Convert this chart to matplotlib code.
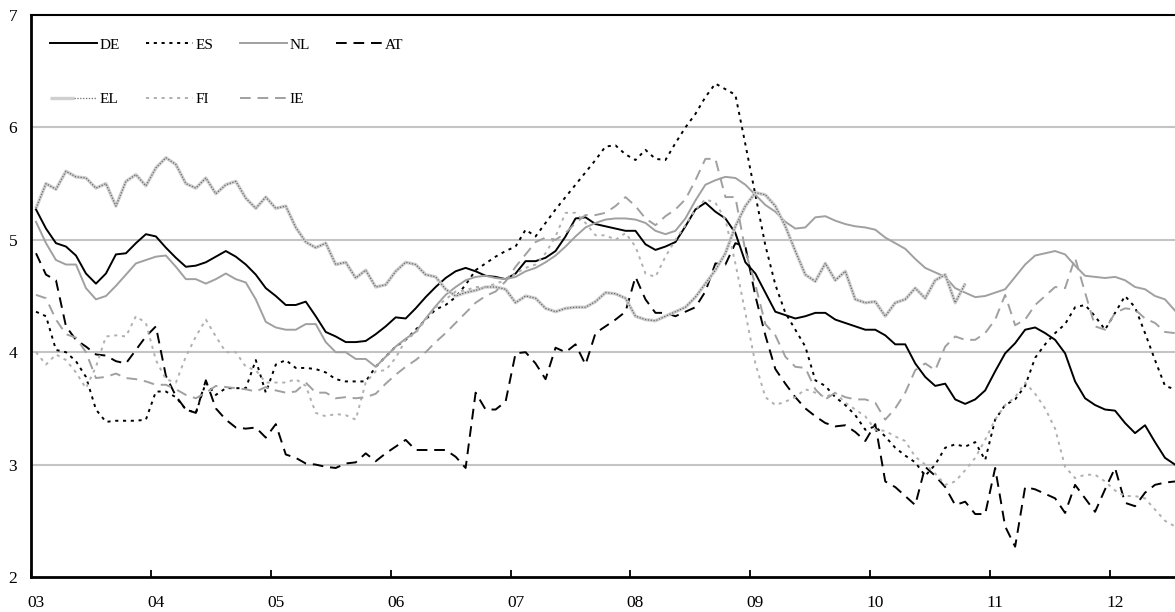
import matplotlib
matplotlib.use("Agg")
import matplotlib.pyplot as plt
from matplotlib.legend_handler import HandlerTuple
import numpy as np

# monthly values, Jan 2003 .. Jul 2012
de = [5.27, 5.10, 4.97, 4.94, 4.86, 4.70, 4.61, 4.70, 4.87, 4.88, 4.97, 5.05,
      5.03, 4.93, 4.84, 4.76, 4.77, 4.80, 4.85, 4.90, 4.85, 4.78, 4.69, 4.57,
      4.50, 4.42, 4.42, 4.45, 4.32, 4.18, 4.14, 4.09, 4.09, 4.10, 4.16, 4.23,
      4.31, 4.30, 4.39, 4.49, 4.58, 4.66, 4.72, 4.75, 4.72, 4.68, 4.67, 4.65,
      4.70, 4.81, 4.81, 4.84, 4.90, 5.03, 5.19, 5.20, 5.14, 5.12, 5.10, 5.08,
      5.08, 4.96, 4.91, 4.94, 4.98, 5.12, 5.27, 5.33, 5.25, 5.19, 5.06, 4.80,
      4.70, 4.53, 4.36, 4.33, 4.30, 4.32, 4.35, 4.35, 4.29, 4.26, 4.23, 4.20,
      4.20, 4.15, 4.07, 4.07, 3.90, 3.78, 3.70, 3.72, 3.58, 3.54, 3.58, 3.66,
      3.83, 3.99, 4.08, 4.20, 4.22, 4.17, 4.11, 3.99, 3.74, 3.59, 3.53, 3.49,
      3.48, 3.37, 3.28, 3.35, 3.20, 3.06, 3.00]

es = [4.36, 4.32, 4.02, 4.00, 3.92, 3.78, 3.49, 3.38, 3.39, 3.39, 3.39, 3.40,
      3.65, 3.65, 3.60, 3.49, 3.46, 3.73, 3.62, 3.68, 3.68, 3.68, 3.93, 3.64,
      3.89, 3.93, 3.86, 3.86, 3.85, 3.82, 3.76, 3.74, 3.74, 3.74, 3.87, 3.96,
      4.05, 4.11, 4.20, 4.29, 4.38, 4.42, 4.49, 4.60, 4.73, 4.79, 4.85, 4.90,
      4.94, 5.09, 5.03, 5.15, 5.27, 5.38, 5.49, 5.60, 5.71, 5.83, 5.84, 5.76,
      5.71, 5.80, 5.72, 5.71, 5.86, 6.00, 6.12, 6.27, 6.39, 6.34, 6.29, 5.85,
      5.40, 4.95, 4.60, 4.35, 4.20, 4.05, 3.75, 3.70, 3.60, 3.53, 3.44, 3.31,
      3.34, 3.25, 3.15, 3.08, 3.02, 2.90, 3.00, 3.15, 3.18, 3.16, 3.20, 3.04,
      3.40, 3.53, 3.58, 3.70, 3.95, 4.07, 4.17, 4.25, 4.40, 4.42, 4.32, 4.20,
      4.35, 4.50, 4.40, 4.17, 3.93, 3.70, 3.67]

nl = [5.16, 4.97, 4.82, 4.78, 4.78, 4.57, 4.47, 4.50, 4.59, 4.69, 4.79, 4.82,
      4.85, 4.86, 4.76, 4.65, 4.65, 4.61, 4.65, 4.70, 4.65, 4.62, 4.47, 4.27,
      4.22, 4.20, 4.20, 4.25, 4.25, 4.09, 4.00, 4.00, 3.94, 3.94, 3.87, 3.96,
      4.05, 4.12, 4.18, 4.30, 4.41, 4.51, 4.58, 4.64, 4.67, 4.68, 4.66, 4.65,
      4.67, 4.72, 4.75, 4.80, 4.86, 4.94, 5.03, 5.11, 5.15, 5.18, 5.19, 5.19,
      5.18, 5.15, 5.08, 5.05, 5.08, 5.19, 5.35, 5.49, 5.53, 5.56, 5.55, 5.49,
      5.40, 5.31, 5.25, 5.16, 5.10, 5.11, 5.20, 5.21, 5.17, 5.14, 5.12, 5.11,
      5.09, 5.02, 4.97, 4.92, 4.83, 4.75, 4.71, 4.67, 4.57, 4.53, 4.49, 4.50,
      4.53, 4.56, 4.67, 4.78, 4.86, 4.88, 4.90, 4.87, 4.77, 4.68, 4.67, 4.66,
      4.67, 4.64, 4.58, 4.56, 4.50, 4.47, 4.37]

at = [4.88, 4.69, 4.64, 4.23, 4.11, 4.05, 3.98, 3.97, 3.92, 3.90, 4.02, 4.14,
      4.23, 3.79, 3.61, 3.49, 3.46, 3.75, 3.50, 3.40, 3.33, 3.32, 3.33, 3.24,
      3.36, 3.09, 3.06, 3.01, 3.00, 2.98, 2.97, 3.01, 3.02, 3.10, 3.03, 3.10,
      3.16, 3.22, 3.13, 3.13, 3.13, 3.13, 3.07, 2.97, 3.64, 3.49, 3.49, 3.56,
      3.99, 4.00, 3.90, 3.76, 4.04, 4.00, 4.07, 3.89, 4.17, 4.23, 4.29, 4.36,
      4.67, 4.47, 4.35, 4.35, 4.32, 4.36, 4.40, 4.54, 4.79, 4.78, 4.97, 4.94,
      4.50, 4.15, 3.85, 3.72, 3.60, 3.50, 3.43, 3.37, 3.34, 3.35, 3.29, 3.21,
      3.36, 2.85, 2.80, 2.72, 2.64, 2.98, 2.90, 2.80, 2.64, 2.67, 2.56, 2.56,
      2.97, 2.45, 2.27, 2.80, 2.78, 2.74, 2.70, 2.57, 2.82, 2.70, 2.58, 2.78,
      2.97, 2.66, 2.63, 2.75, 2.82, 2.84, 2.85]

# EL series stops in Oct 2010
el = [5.28, 5.50, 5.45, 5.61, 5.56, 5.55, 5.46, 5.50, 5.30, 5.52, 5.58, 5.48,
      5.64, 5.73, 5.67, 5.50, 5.46, 5.55, 5.41, 5.49, 5.52, 5.37, 5.28, 5.38,
      5.28, 5.30, 5.11, 4.98, 4.93, 4.97, 4.78, 4.80, 4.66, 4.73, 4.58, 4.60,
      4.72, 4.80, 4.78, 4.69, 4.67, 4.56, 4.50, 4.53, 4.55, 4.58, 4.58, 4.56,
      4.44, 4.50, 4.48, 4.39, 4.36, 4.39, 4.40, 4.40, 4.45, 4.53, 4.52, 4.48,
      4.32, 4.29, 4.28, 4.32, 4.36, 4.40, 4.49, 4.61, 4.73, 4.88, 5.12, 5.30,
      5.42, 5.40, 5.30, 5.12, 4.90, 4.69, 4.63, 4.79, 4.64, 4.72, 4.47, 4.44,
      4.45, 4.32, 4.44, 4.47, 4.57, 4.48, 4.64, 4.69, 4.44, 4.61]

fi = [4.00, 3.89, 3.98, 3.93, 3.82, 3.68, 3.87, 4.14, 4.15, 4.14, 4.32, 4.26,
      3.93, 3.76, 3.73, 3.96, 4.14, 4.29, 4.14, 4.00, 4.00, 3.87, 3.84, 3.73,
      3.73, 3.73, 3.76, 3.70, 3.46, 3.43, 3.45, 3.44, 3.40, 3.73, 3.83, 3.84,
      3.95, 4.11, 4.17, 4.29, 4.40, 4.47, 4.54, 4.55, 4.58, 4.58, 4.61, 4.64,
      4.70, 4.75, 4.78, 4.88, 5.03, 5.24, 5.24, 5.15, 5.04, 5.04, 5.00, 5.06,
      4.94, 4.70, 4.67, 4.85, 5.00, 5.13, 5.27, 5.36, 5.33, 5.18, 4.79, 4.35,
      3.90, 3.60, 3.53, 3.56, 3.60, 3.67, 3.64, 3.60, 3.64, 3.55, 3.49, 3.43,
      3.31, 3.30, 3.25, 3.21, 3.07, 3.00, 2.92, 2.82, 2.85, 2.95, 3.06, 3.22,
      3.40, 3.53, 3.60, 3.73, 3.63, 3.50, 3.32, 2.98, 2.88, 2.91, 2.91, 2.85,
      2.77, 2.72, 2.72, 2.70, 2.60, 2.50, 2.45]

ie = [4.51, 4.48, 4.29, 4.16, 4.13, 4.00, 3.77, 3.78, 3.81, 3.77, 3.76, 3.74,
      3.71, 3.71, 3.67, 3.62, 3.59, 3.64, 3.70, 3.69, 3.68, 3.67, 3.65, 3.69,
      3.66, 3.64, 3.65, 3.73, 3.64, 3.64, 3.59, 3.60, 3.59, 3.60, 3.63, 3.72,
      3.80, 3.87, 3.93, 4.00, 4.09, 4.17, 4.26, 4.35, 4.44, 4.50, 4.54, 4.63,
      4.76, 4.87, 4.98, 5.02, 5.00, 5.06, 5.15, 5.22, 5.22, 5.24, 5.30, 5.38,
      5.30, 5.19, 5.13, 5.21, 5.27, 5.36, 5.53, 5.72, 5.72, 5.38, 5.38, 4.90,
      4.60, 4.25, 4.15, 3.96, 3.87, 3.86, 3.67, 3.58, 3.64, 3.60, 3.58, 3.58,
      3.55, 3.40, 3.50, 3.64, 3.84, 3.90, 3.84, 4.05, 4.14, 4.11, 4.11, 4.17,
      4.29, 4.51, 4.24, 4.29, 4.42, 4.50, 4.58, 4.57, 4.84, 4.53, 4.23, 4.20,
      4.35, 4.39, 4.38, 4.30, 4.26, 4.18, 4.17]

year_labels = ["03", "04", "05", "06", "07", "08", "09", "10", "11", "12"]

plt.rcParams["font.family"] = ["Liberation Serif", "DejaVu Serif"]

fig = plt.figure(figsize=(11.75, 6.12), dpi=100)
ax = fig.add_axes([31 / 1175, 35 / 612, 1144 / 1175, 562 / 612])

x = np.arange(len(de))
x_el = np.arange(len(el))

gray = "#a0a0a0"
lw = 1.4

h_de, = ax.plot(x, de, color="black", lw=lw)
h_es, = ax.plot(x, es, color="black", lw=lw, linestyle=(0, (1.6, 2.4)))
h_nl, = ax.plot(x, nl, color=gray, lw=lw)
h_at, = ax.plot(x, at, color="black", lw=lw, linestyle=(0, (5.5, 3.5)))
h_el1, = ax.plot(x_el, el, color="#cfcfcf", lw=2.4, solid_capstyle="butt")
h_el2, = ax.plot(x_el, el, color="#6a6a6a", lw=0.9, linestyle=(0, (1, 1.3)))
h_fi, = ax.plot(x, fi, color="#b0b0b0", lw=lw, linestyle=(0, (1.6, 2.4)))
h_ie, = ax.plot(x, ie, color=gray, lw=lw, linestyle=(0, (5.5, 3.5)))

ax.set_xlim(-0.5, 114.0)
ax.set_ylim(2, 7)

for v in [3, 4, 5, 6]:
    ax.axhline(v, color="#c4c4c4", lw=1.5, zorder=0)

ax.set_yticks([2, 3, 4, 5, 6, 7])
ax.tick_params(axis="y", length=0, pad=10, labelsize=12.5)

ax.set_xticks(np.arange(len(year_labels)) * 12 - 0.5)
ax.set_xticklabels([])
ax.tick_params(axis="x", which="major", direction="in", length=5, width=1.3)
ax.set_xticks(np.arange(len(year_labels)) * 12, minor=True)
ax.set_xticklabels(year_labels, minor=True)
ax.tick_params(axis="x", which="minor", length=0, pad=13, labelsize=12.5)

for side in ["left", "bottom"]:
    ax.spines[side].set_linewidth(2.0)
ax.spines["top"].set_linewidth(1.5)
ax.spines["right"].set_visible(False)

handles = [h_de, (h_el1, h_el2), h_es, h_fi, h_nl, h_ie, h_at]
labels = ["DE", "EL", "ES", "FI", "NL", "IE", "AT"]
ax.legend(handles, labels, ncol=4, loc="upper left",
          bbox_to_anchor=(19 / 1144, 1 - 23 / 562), frameon=False,
          fontsize=11, handlelength=3.1, handletextpad=0.15,
          columnspacing=1.7, labelspacing=2.65, borderpad=0, borderaxespad=0,
          handler_map={tuple: HandlerTuple(ndivide=None, pad=0)})

fig.savefig("out.png", dpi=100)
